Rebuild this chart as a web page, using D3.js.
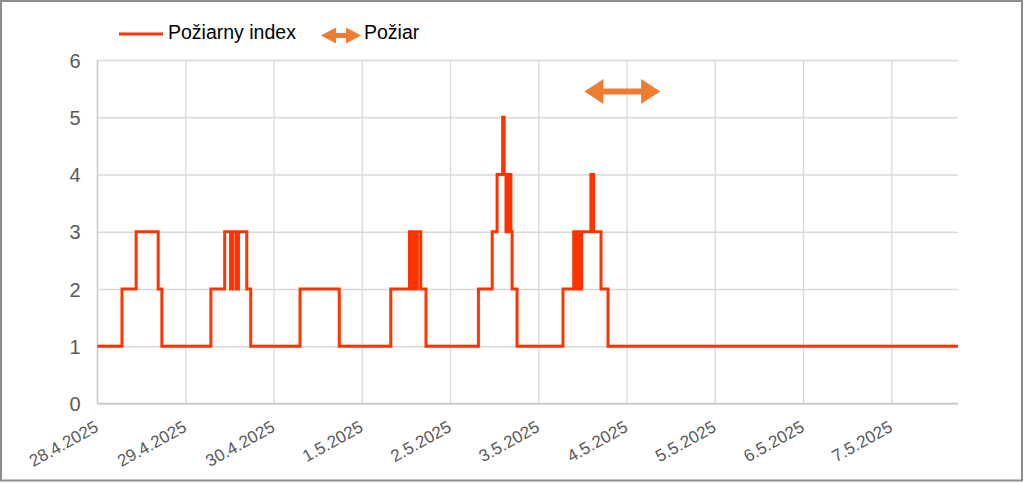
<!DOCTYPE html>
<html>
<head>
<meta charset="utf-8">
<script src="https://cdn.jsdelivr.net/npm/d3@7"></script>
<style>
  html, body { margin: 0; padding: 0; background: #fff; }
  svg { display: block; }
  text { font-family: "Liberation Sans", Arial, sans-serif; }
</style>
</head>
<body>
<svg id="chart" width="1024" height="483"></svg>
<script>
// ---- Data ----
const seriesName = "Požiarny index";
const fireName = "Požiar";
// change points of the step series (value holds until next time)
const indexTimes = [
  "2025-04-28T00:00", "2025-04-28T06:40", "2025-04-28T10:30", "2025-04-28T16:30", "2025-04-28T17:30",
  "2025-04-29T06:50", "2025-04-29T10:35", "2025-04-29T12:10", "2025-04-29T12:45", "2025-04-29T13:40",
  "2025-04-29T14:20", "2025-04-29T16:35", "2025-04-29T17:40",
  "2025-04-30T07:05", "2025-04-30T17:45",
  "2025-05-01T07:45", "2025-05-01T12:50", "2025-05-01T13:12", "2025-05-01T13:32", "2025-05-01T13:53",
  "2025-05-01T14:13", "2025-05-01T14:32", "2025-05-01T14:58", "2025-05-01T15:54", "2025-05-01T17:20",
  "2025-05-02T07:35", "2025-05-02T11:20", "2025-05-02T12:40", "2025-05-02T14:10", "2025-05-02T14:35",
  "2025-05-02T15:05", "2025-05-02T15:15", "2025-05-02T15:35", "2025-05-02T15:50", "2025-05-02T16:25",
  "2025-05-02T16:45", "2025-05-02T18:05",
  "2025-05-03T06:35", "2025-05-03T09:30", "2025-05-03T09:50", "2025-05-03T10:05", "2025-05-03T10:20",
  "2025-05-03T10:35", "2025-05-03T10:55", "2025-05-03T11:10", "2025-05-03T11:25", "2025-05-03T11:40",
  "2025-05-03T14:10", "2025-05-03T14:55", "2025-05-03T16:55", "2025-05-03T18:50",
  "2025-05-07T18:00"
];
const indexValues = [
  1, 2, 3, 2, 1,
  2, 3, 2, 3, 2,
  3, 2, 1,
  2, 1,
  2, 3, 2, 3, 2,
  3, 2, 3, 2, 1,
  2, 3, 4, 5, 4,
  3, 4, 3, 4, 3,
  2, 1,
  2, 3, 2, 3, 2,
  3, 2, 3, 2, 3,
  4, 3, 2, 1,
  1
];
const fireStart = "2025-05-03T12:25";
const fireEnd = "2025-05-04T09:00";
const fireLevel = 5.45;
const yTicks = [0, 1, 2, 3, 4, 5, 6];
const xTickDates = ["2025-04-28", "2025-04-29", "2025-04-30", "2025-05-01", "2025-05-02",
                    "2025-05-03", "2025-05-04", "2025-05-05", "2025-05-06", "2025-05-07"];
const xStart = "2025-04-28T00:00";
const xEnd = "2025-05-07T18:00";

// ---- Setup ----
const svg = d3.select("#chart");
const W = 1024, H = 483;
const plot = { left: 97.5, right: 958, top: 60, bottom: 403.5 };
const lineColor = "#FF3300";
const fireColor = "#ED7D31";
const gridColor = "#D9D9D9";
const labelColor = "#595959";

const parse = s => new Date(s);
const x = d3.scaleTime().domain([parse(xStart), parse(xEnd)]).range([plot.left, plot.right]);
const y = d3.scaleLinear().domain([0, 6]).range([plot.bottom, plot.top]);

// outer border
svg.append("rect").attr("x", 1).attr("y", 1).attr("width", W - 3).attr("height", H - 3.5)
  .attr("fill", "#fff").attr("stroke", "#8C8C8C").attr("stroke-width", 2);

// horizontal gridlines + y labels
const yAxis = d3.axisLeft(y).tickValues(yTicks).tickSize(-(plot.right - plot.left)).tickPadding(18)
  .tickFormat(d3.format("d"));
const gy = svg.append("g").attr("transform", `translate(${plot.left},0)`).call(yAxis);
gy.select(".domain").remove();
gy.selectAll(".tick line").attr("stroke", gridColor).attr("stroke-width", 1.3);
gy.selectAll(".tick text").attr("fill", labelColor).style("font-size", "20px")
  .attr("x", -17).attr("dy", "0.36em");

// vertical gridlines at each day
const xTicks = xTickDates.map(d => parse(d + "T00:00"));
const gx = svg.append("g");
gx.selectAll("line.vgrid").data(xTicks).join("line").attr("class", "vgrid")
  .attr("x1", d => x(d)).attr("x2", d => x(d))
  .attr("y1", plot.top).attr("y2", plot.bottom)
  .attr("stroke", gridColor).attr("stroke-width", 1.3);
// x axis line
svg.append("line").attr("x1", plot.left).attr("x2", plot.right)
  .attr("y1", plot.bottom).attr("y2", plot.bottom)
  .attr("stroke", "#C8C8C8").attr("stroke-width", 1.5);
// left axis line
svg.append("line").attr("x1", plot.left).attr("x2", plot.left)
  .attr("y1", plot.top).attr("y2", plot.bottom)
  .attr("stroke", "#C8C8C8").attr("stroke-width", 1.3);

// x tick labels
const fmt = d3.timeFormat("%-d.%-m.%Y");
gx.selectAll("text.xl").data(xTicks).join("text").attr("class", "xl")
  .attr("transform", d => `translate(${x(d) + 2},${plot.bottom + 27}) rotate(-29)`)
  .attr("text-anchor", "end")
  .attr("fill", labelColor).style("font-size", "17px")
  .text(d => fmt(d));

// series
const pts = indexTimes.map((t, i) => ({ t: parse(t), v: indexValues[i] }));
const line = d3.line().x(d => x(d.t)).y(d => y(d.v)).curve(d3.curveStepAfter);
svg.append("path").datum(pts).attr("d", line)
  .attr("fill", "none").attr("stroke", lineColor).attr("stroke-width", 3)
  .attr("stroke-linejoin", "miter");

// double arrow
function dblArrow(x1, x2, cy, shaft, headLen, headHalf) {
  const s = shaft / 2;
  return `M${x1},${cy} L${x1 + headLen},${cy - headHalf} L${x1 + headLen},${cy - s} ` +
    `L${x2 - headLen},${cy - s} L${x2 - headLen},${cy - headHalf} L${x2},${cy} ` +
    `L${x2 - headLen},${cy + headHalf} L${x2 - headLen},${cy + s} L${x1 + headLen},${cy + s} ` +
    `L${x1 + headLen},${cy + headHalf} Z`;
}
svg.append("path")
  .attr("d", dblArrow(x(parse(fireStart)), x(parse(fireEnd)), y(fireLevel), 6, 19, 12.5))
  .attr("fill", fireColor);

// legend
const lg = svg.append("g");
lg.append("line").attr("x1", 119).attr("x2", 163).attr("y1", 34).attr("y2", 34)
  .attr("stroke", lineColor).attr("stroke-width", 3);
lg.append("text").attr("x", 168).attr("y", 39).style("font-size", "19.5px").attr("fill", "#000")
  .text(seriesName);
lg.append("path").attr("d", dblArrow(321, 361, 35.5, 5, 15, 8)).attr("fill", fireColor);
lg.append("text").attr("x", 364).attr("y", 39).style("font-size", "19.5px").attr("fill", "#000")
  .text(fireName);
</script>
</body>
</html>
